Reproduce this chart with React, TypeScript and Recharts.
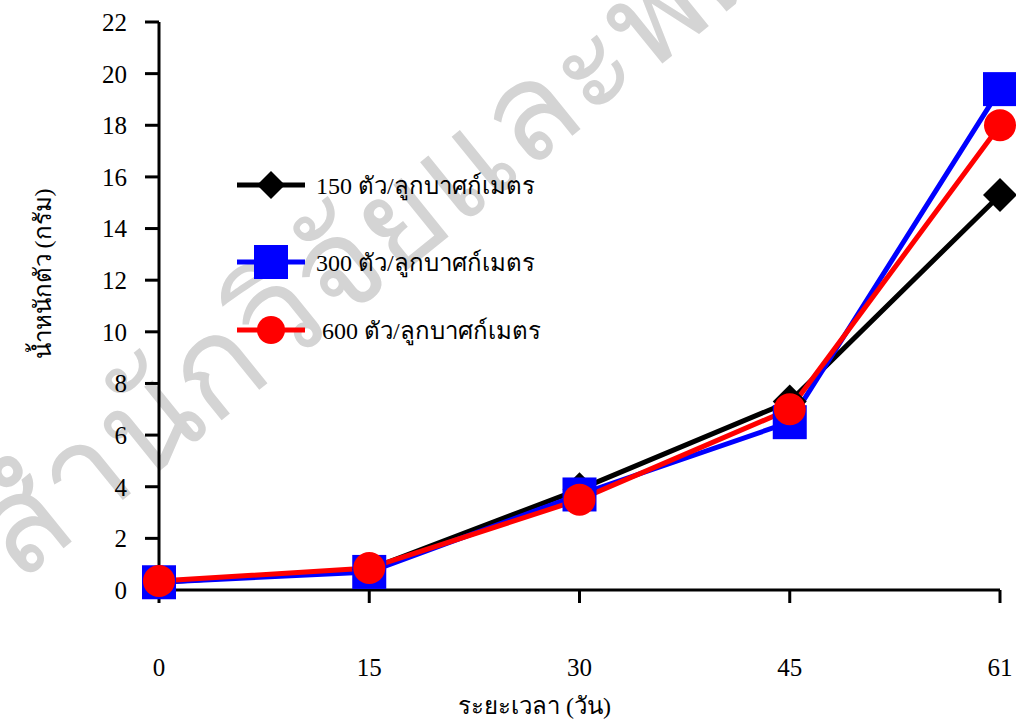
import { Customized, Line, LineChart, XAxis, YAxis } from "recharts";

const days = ["0", "15", "30", "45", "61"];
const density150 = [0.3, 0.8, 3.9, 7.3, 15.3];
const density300 = [0.3, 0.7, 3.7, 6.5, 19.4];
const density600 = [0.35, 0.85, 3.5, 7.0, 18.0];
const yTicks = [0, 2, 4, 6, 8, 10, 12, 14, 16, 18, 20, 22];

const seriesLabels = [
  "150 ตัว/ลูกบาศก์เมตร",
  "300 ตัว/ลูกบาศก์เมตร",
  "600 ตัว/ลูกบาศก์เมตร",
];
const xTitle = "ระยะเวลา (วัน)";
const yTitle = "น้ำหนักตัว (กรัม)";

const BLACK = "#000000";
const BLUE = "#0000FF";
const RED = "#FF0000";
const FONT = "'Liberation Serif', 'Times New Roman', serif";

const data = days.map((d, i) => ({
  day: d,
  s150: density150[i],
  s300: density300[i],
  s600: density600[i],
}));

// marker shapes
const Diamond = ({ cx, cy, r = 17 }: any) => (
  <path d={`M${cx},${cy - r} L${cx + r},${cy} L${cx},${cy + r} L${cx - r},${cy} Z`} fill={BLACK} />
);
const Square = ({ cx, cy, r = 17 }: any) => (
  <rect x={cx - r} y={cy - r} width={r * 2} height={r * 2} fill={BLUE} />
);
const Circle = ({ cx, cy, r = 16 }: any) => <circle cx={cx} cy={cy} r={r} fill={RED} />;

const legendRows = [
  { color: BLACK, Mark: Diamond, label: seriesLabels[0], y: 185, r: 14, dx: 0 },
  { color: BLUE, Mark: Square, label: seriesLabels[1], y: 262, r: 17, dx: 0 },
  { color: RED, Mark: Circle, label: seriesLabels[2], y: 330, r: 14, dx: 6 },
];

// legend drawn in place so it does not shrink the plot area
function LegendBox() {
  return (
    <g>
      {legendRows.map((r, i) => (
        <g key={i}>
          <line x1={237} x2={305} y1={r.y} y2={r.y} stroke={r.color} strokeWidth={5} />
          <r.Mark cx={271} cy={r.y} r={r.r} />
          <text x={316 + r.dx} y={r.y + 9} fontFamily={FONT} fontSize={24} fill="#000">
            {r.label}
          </text>
        </g>
      ))}
    </g>
  );
}

function Watermark() {
  return (
    <text
      x={0}
      y={0}
      transform="translate(18,585) rotate(-39)"
      fontFamily={FONT}
      fontSize={135}
      fill="#D4D4D4"
    >
      สำนักวิจัยและพัฒนา
    </text>
  );
}

export default function App() {
  return (
    <div style={{ position: "absolute", left: 0, top: 0, background: "#fff" }}>
      <LineChart width={1016} height={724} data={data} margin={{ top: 22, right: 16, left: 0, bottom: 0 }}>
        <Customized component={Watermark} />
        <XAxis
          dataKey="day"
          padding={{ left: 0, right: 0 }}
          axisLine={{ stroke: BLACK, strokeWidth: 3 }}
          tickLine={{ stroke: BLACK, strokeWidth: 3 }}
          tickSize={13}
          tickMargin={55}
          height={134}
          interval={0}
          tick={{ fill: "#000", fontSize: 25, fontFamily: FONT }}
          label={({ viewBox }: any) => (
            <text
              x={viewBox.x + viewBox.width / 2 - 45}
              y={viewBox.y + viewBox.height - 10}
              textAnchor="middle"
              fill="#000"
              fontSize={24}
              fontFamily={FONT}
            >
              {xTitle}
            </text>
          )}
        />
        <YAxis
          domain={[0, 22]}
          ticks={yTicks}
          interval={0}
          width={159}
          axisLine={{ stroke: BLACK, strokeWidth: 3 }}
          tickLine={{ stroke: BLACK, strokeWidth: 3 }}
          tickSize={14}
          tickMargin={18}
          tick={{ fill: "#000", fontSize: 25, fontFamily: FONT }}
          label={({ viewBox }: any) => {
            const cy = viewBox.y + viewBox.height / 2 - 32;
            return (
              <text
                x={43}
                y={cy}
                transform={`rotate(-90, 43, ${cy})`}
                textAnchor="middle"
                dominantBaseline="central"
                fill="#000"
                fontSize={24}
                fontFamily={FONT}
              >
                {yTitle}
              </text>
            );
          }}
        />
        <Line
          dataKey="s150"
          name={seriesLabels[0]}
          stroke={BLACK}
          strokeWidth={5}
          isAnimationActive={false}
          dot={(p: any) => <Diamond key={p.index} cx={p.cx} cy={p.cy} r={17} />}
        />
        <Line
          dataKey="s300"
          name={seriesLabels[1]}
          stroke={BLUE}
          strokeWidth={5}
          isAnimationActive={false}
          dot={(p: any) => <Square key={p.index} cx={p.cx} cy={p.cy} r={17} />}
        />
        <Line
          dataKey="s600"
          name={seriesLabels[2]}
          stroke={RED}
          strokeWidth={5}
          isAnimationActive={false}
          dot={(p: any) => <Circle key={p.index} cx={p.cx} cy={p.cy} r={16} />}
        />
        <Customized component={LegendBox} />
      </LineChart>
    </div>
  );
}
